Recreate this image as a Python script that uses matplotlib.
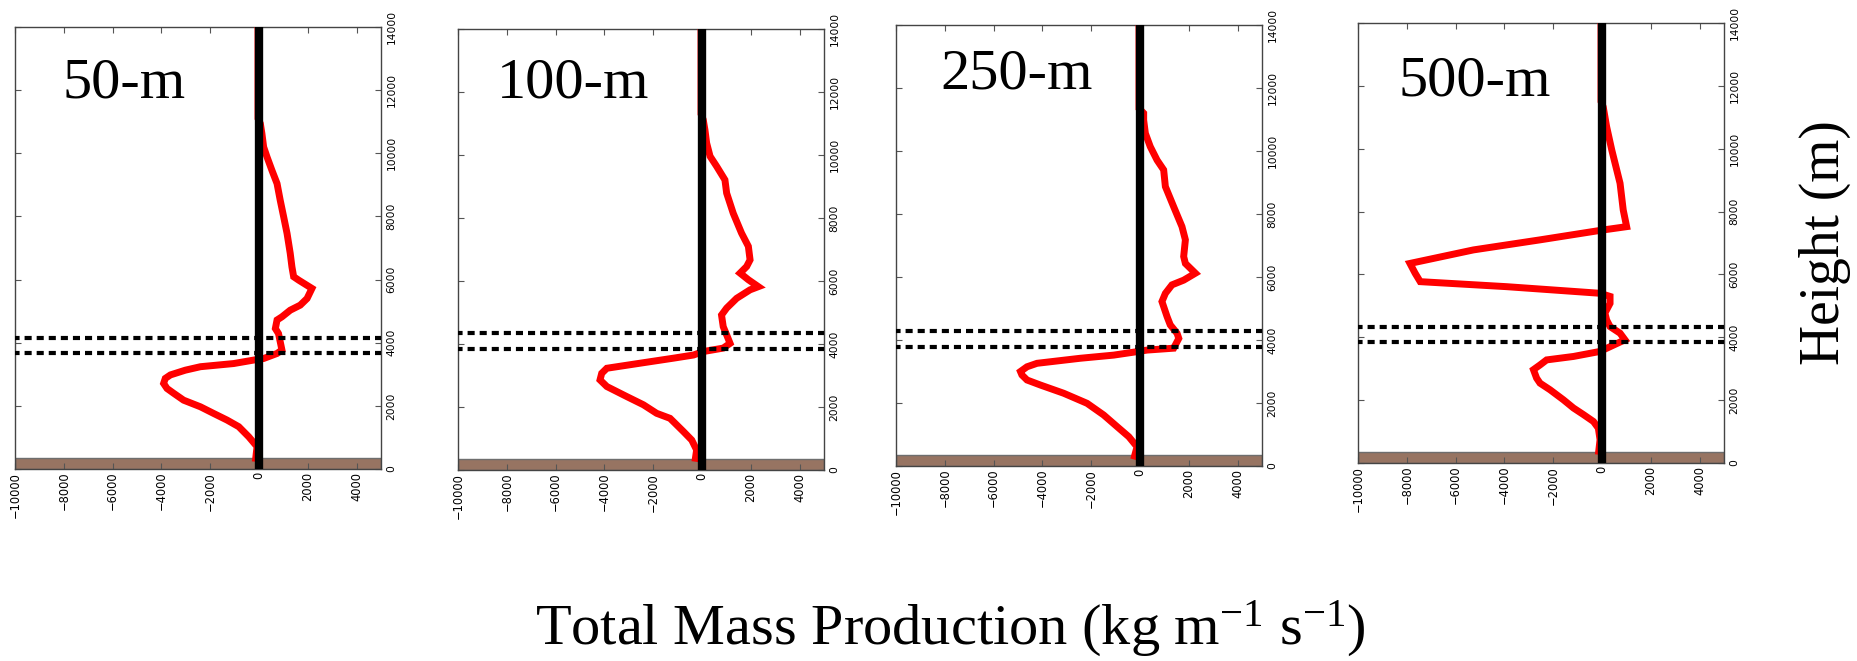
import matplotlib
matplotlib.use("Agg")
import matplotlib.pyplot as plt

plt.rcParams["mathtext.fontset"] = "custom"
plt.rcParams["mathtext.rm"] = "Liberation Serif"
plt.rcParams["mathtext.it"] = "Liberation Serif:italic"

# Panel names (horizontal grid spacing)
panel_labels = ["50-m", "100-m", "250-m", "500-m"]

# Vertical profiles of total mass production (kg m-1 s-1) against height (m)
height_50 = [230, 710, 1020, 1340, 1550, 1760, 1970, 2180, 2400, 2550, 2710, 2870,
             2980, 3130, 3240, 3340, 3450, 3500, 3660, 3770, 4290, 4450, 4720, 4820,
             5030, 5190, 5400, 5720, 5980, 6090, 6400, 6830, 7460, 7990, 8510, 9040,
             9460, 9880, 10200, 10620, 10940, 11100, 14000]
mass_50 = [-150, -80, -420, -830, -1310, -1860, -2400, -3090, -3500, -3770, -3910, -3840,
           -3630, -3020, -2400, -1040, -220, 190, 740, 940, 800, 670, 740, 940,
           1280, 1690, 1970, 2170, 1630, 1420, 1350, 1280, 1150, 1010, 870, 740,
           530, 330, 190, 120, 55, -40, -40]

height_100 = [265, 635, 950, 1220, 1480, 1640, 1800, 2070, 2330, 2650, 2860, 3070,
              3230, 3390, 3550, 3650, 3760, 3870, 4020, 4290, 4550, 4920, 5140, 5450,
              5720, 5820, 6040, 6250, 6460, 6670, 7100, 7520, 8150, 8790, 9210, 9640,
              9960, 10380, 10800, 11120, 11300, 14000]
mass_100 = [-290, -220, -420, -760, -1100, -1310, -1860, -2400, -3080, -3900, -4180, -4110,
            -3900, -2540, -1170, -350, 50, 870, 1150, 1010, 870, 800, 1010, 1420,
            1970, 2310, 1900, 1560, 1830, 1970, 1900, 1620, 1280, 1010, 940, 600,
            330, 190, 120, 50, -40, -40]

height_250 = [210, 610, 930, 1250, 1620, 1990, 2310, 2570, 2730, 2890, 3000, 3150,
              3260, 3420, 3520, 3630, 3680, 3740, 4050, 4210, 4480, 4740, 5220, 5480,
              5750, 5900, 6120, 6430, 6650, 7180, 7600, 8230, 8870, 9400, 9710, 10140,
              10560, 10980, 11200, 11350, 14000]
mass_250 = [-260, -120, -460, -940, -1490, -2170, -3130, -4080, -4630, -4840, -4900, -4630,
            -4220, -2450, -1080, -120, 290, 1380, 1590, 1520, 1240, 1110, 900, 1040,
            1310, 1790, 2270, 1860, 1790, 1860, 1720, 1380, 1040, 970, 700, 420,
            220, 150, 150, -40, -40]

height_500 = [265, 740, 1110, 1320, 1540, 1750, 2010, 2330, 2540, 2700, 2970, 3120,
              3280, 3390, 3550, 3650, 3920, 4130, 4340, 4550, 4770, 5080, 5300, 5400,
              5610, 5770, 6040, 6350, 6780, 7100, 7410, 7520, 8050, 8900, 9960, 10700,
              11330, 11500, 14000]
mass_500 = [-150, -80, -150, -350, -760, -1170, -1580, -2130, -2540, -2680, -2810, -2540,
            -2270, -1170, -80, 190, 940, 740, 330, 190, 120, 330, 330, -80,
            -3900, -7450, -7660, -7870, -5270, -2540, 0, 1010, 870, 740, 400, 190,
            50, -40, -40]

heights = [height_50, height_100, height_250, height_500]
masses = [mass_50, mass_100, mass_250, mass_500]

# Two dashed reference levels (m) per panel
upper_level = [4150, 4350, 4290, 4330]
lower_level = [3670, 3840, 3780, 3850]

# Terrain top (m)
ground_top = 350

x_ticks = [-10000, -8000, -6000, -4000, -2000, 0, 2000, 4000]
y_ticks = [0, 2000, 4000, 6000, 8000, 10000, 12000, 14000]

W, H = 1857, 661
fig = plt.figure(figsize=(W / 100, H / 100), dpi=100)

# Axes boxes in pixels: left, right, top, bottom
boxes = [(15, 381, 27, 469), (458, 824, 29, 470), (896, 1262, 25, 466), (1358, 1724, 23, 463)]
label_pos = [(0.131, 0.840), (0.107, 0.844), (0.120, 0.857), (0.112, 0.836)]

for i, (l, r, t, b) in enumerate(boxes):
    ax = fig.add_axes([l / W, 1 - b / H, (r - l) / W, (b - t) / H])
    ax.set_xlim(-10000, 5000)
    ax.set_ylim(0, 14000)

    ax.axhspan(0, ground_top, facecolor="#977462", edgecolor="#6e6e6e", lw=1.0, zorder=1)
    ax.plot(masses[i], heights[i], color="red", lw=5, solid_joinstyle="miter",
            solid_capstyle="butt", zorder=3)
    ax.axvline(0, color="black", lw=6, zorder=4)
    for lev in (upper_level[i], lower_level[i]):
        ax.axhline(lev, color="black", lw=3, linestyle=(0.6, (1.7, 1.2)), zorder=5)

    ax.set_xticks(x_ticks)
    ax.set_yticks(y_ticks)
    ax.yaxis.tick_right()
    ax.tick_params(axis="both", direction="in", length=4, width=0.8, color="#555555",
                   top=True, bottom=True, left=True, right=True)
    ax.tick_params(axis="x", labelrotation=90, pad=2, labelsize=8.3)
    ax.tick_params(axis="y", labelrotation=90, pad=4, labelsize=7.7)
    for lab in ax.get_yticklabels():
        lab.set_verticalalignment("center")
    for sp in ax.spines.values():
        sp.set_color("#444444")
        sp.set_linewidth(1.0)

    lx, ly = label_pos[i]
    ax.text(lx, ly, panel_labels[i], transform=ax.transAxes, fontsize=42,
            family="Liberation Serif", ha="left", va="baseline", zorder=6)

fig.text(950 / W, 1 - 645 / H, r"Total Mass Production (kg m$^{-1}$ s$^{-1}$)",
         fontsize=42, family="Liberation Serif", ha="center", va="baseline")
fig.text(1825 / W, 1 - 243 / H, "Height (m)", rotation=90, fontsize=40,
         family="Liberation Serif", ha="center", va="center")

fig.savefig("out.png", dpi=100)
